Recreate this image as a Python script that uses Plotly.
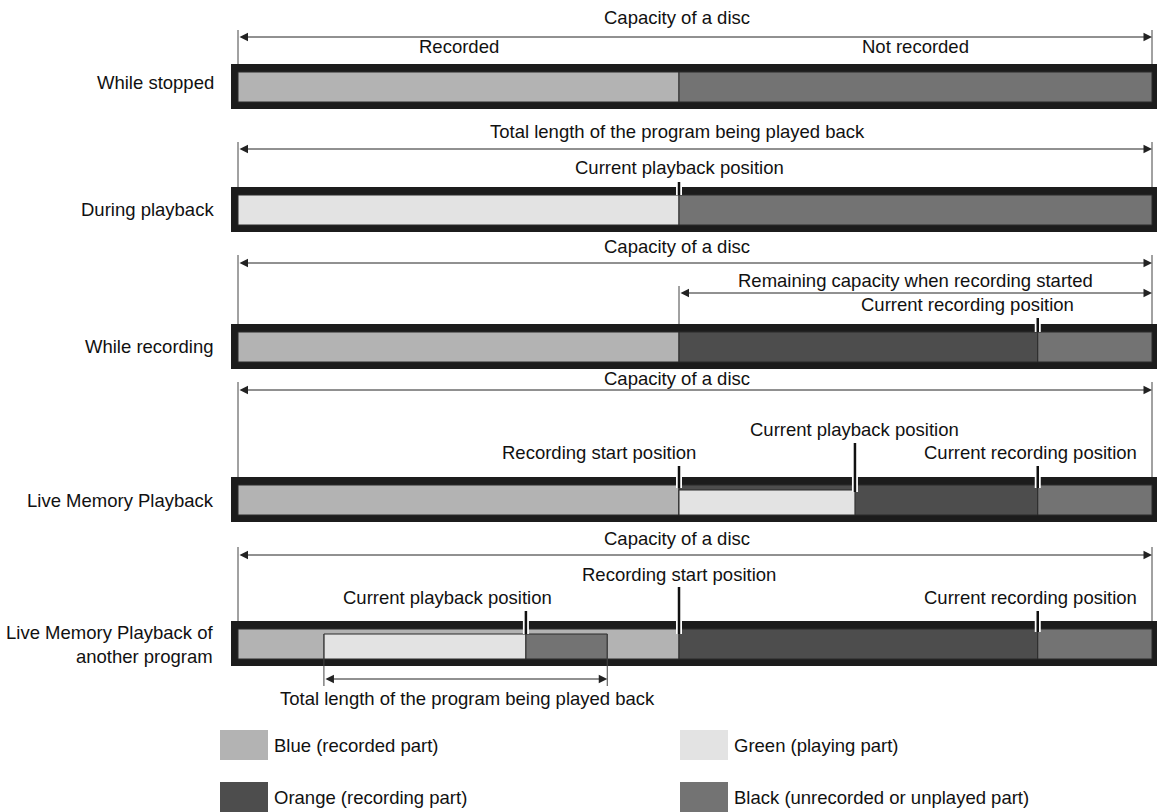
import plotly.graph_objects as go

# ---------------- data (percent of the full bar) ----------------
row_labels = ["While stopped", "During playback", "While recording",
              "Live Memory Playback", "Live Memory Playback of<br>another program"]

recorded_pct = 48.25          # recorded part / recording start
playback_pos_pct = 48.25      # current playback position (during playback)
recording_pos_pct = 87.5      # current recording position
live_playback_pos_pct = 67.5  # live memory playback position
other_start_pct = 9.4         # other program start
other_end_pct = 40.4          # other program end
other_playback_pos_pct = 31.5 # playback position inside other program

color_names = ["blue", "green", "orange", "black"]
color_values = ["#b3b3b3", "#e3e3e3", "#4d4d4d", "#737373"]
legend_labels = ["Blue (recorded part)", "Green (playing part)",
                 "Orange (recording part)", "Black (unrecorded or unplayed part)"]

row_segments = [
    [(0, recorded_pct, "blue"), (recorded_pct, 100, "black")],
    [(0, playback_pos_pct, "green"), (playback_pos_pct, 100, "black")],
    [(0, recorded_pct, "blue"), (recorded_pct, recording_pos_pct, "orange"),
     (recording_pos_pct, 100, "black")],
    [(0, recorded_pct, "blue"), (recorded_pct, recording_pos_pct, "orange"),
     (recording_pos_pct, 100, "black")],
    [(0, recorded_pct, "blue"), (recorded_pct, recording_pos_pct, "orange"),
     (recording_pos_pct, 100, "black")],
]
# ---------------------------------------------------------------

COL = dict(zip(color_names, color_values))
W, H = 1159, 812
BAR_L, BAR_R = 238, 1152
PPU = (BAR_R - BAR_L) / 100.0          # pixels per percent


def dx(px):
    return px / PPU


X_RANGE = [-BAR_L / PPU, (W - BAR_L) / PPU]
FONT = "Liberation Sans, Arial, sans-serif"
FS = 18.5
TXT = "#111111"

ROW_TOP = [64, 187, 324, 477, 621]
OUT_H, IN_OFF, IN_H = 45, 8, 30

shapes = []
annotations = []


def rect(x0, x1, y0, y1, fill, line=None, lw=0, xref="x"):
    shapes.append(dict(type="rect", xref=xref, yref="y", x0=x0, x1=x1, y0=y0, y1=y1,
                       fillcolor=fill, line=dict(color=line or fill, width=lw),
                       layer="above"))


def vline(x, y0, y1, color="#444444", w=1):
    shapes.append(dict(type="line", xref="x", yref="y", x0=x, x1=x, y0=y0, y1=y1,
                       line=dict(color=color, width=w), layer="above"))


def text(s, x, y, xref="x", anchor="center"):
    annotations.append(dict(text=s, x=x, y=y, xref=xref, yref="y", showarrow=False,
                            xanchor=anchor, yanchor="middle",
                            font=dict(family=FONT, size=FS, color=TXT)))


def darrow(x0, x1, y):
    annotations.append(dict(text="", x=x1, y=y, ax=x0, ay=y, xref="x", yref="y",
                            axref="x", ayref="y", showarrow=True,
                            arrowside="end+start", arrowhead=2, startarrowhead=2,
                            arrowsize=1.7, startarrowsize=1.7, arrowwidth=1,
                            arrowcolor="#222222", standoff=0, startstandoff=0))


def marker(x, y0, y1):
    rect(x - dx(3), x + dx(3), y0, y1, "white")
    vline(x, y0, y1, "#111111", 2.5)


# bars
for r, segs in enumerate(row_segments):
    top = ROW_TOP[r]
    rect(-dx(7), 100 + dx(5), top, top + OUT_H, "#1c1c1c")
    it, ib = top + IN_OFF, top + IN_OFF + IN_H
    for s0, s1, c in segs:
        rect(s0, s1, it, ib, COL[c], "#2a2a2a", 1)

# live memory playback: green part over orange
it3 = ROW_TOP[3] + IN_OFF
rect(recorded_pct, live_playback_pos_pct, it3 + 5, it3 + IN_H, COL["green"], "#2a2a2a", 1)

# other program inside recorded part
it4 = ROW_TOP[4] + IN_OFF
rect(other_start_pct, other_playback_pos_pct, it4 + 5, it4 + IN_H, COL["green"], "#2a2a2a", 1)
rect(other_playback_pos_pct, other_end_pct, it4 + 5, it4 + IN_H, COL["black"], "#2a2a2a", 1)

# row 1
vline(0, 30, ROW_TOP[0]); vline(100, 30, ROW_TOP[0])
darrow(0, 100, 37)
text("Capacity of a disc", 48.25 - dx(2), 17)
text("Recorded", recorded_pct / 2, 46)
text("Not recorded", (recorded_pct + 100) / 2, 46)

# row 2
vline(0, 142, ROW_TOP[1]); vline(100, 142, ROW_TOP[1])
darrow(0, 100, 149)
text("Total length of the program being played back", 48.25 - dx(2), 131)
text("Current playback position", playback_pos_pct, 167)
marker(playback_pos_pct, 182, ROW_TOP[1] + IN_OFF)

# row 3
vline(0, 255, ROW_TOP[2]); vline(100, 255, ROW_TOP[2])
darrow(0, 100, 263)
text("Capacity of a disc", 48.25 - dx(2), 246)
vline(recorded_pct, 286, ROW_TOP[2])
darrow(recorded_pct, 100, 293)
text("Remaining capacity when recording started", (recorded_pct + 100) / 2, 280)
text("Current recording position", recording_pos_pct - dx(70), 304)
marker(recording_pos_pct, 318, ROW_TOP[2] + IN_OFF)

# row 4
vline(0, 382, ROW_TOP[3]); vline(100, 382, ROW_TOP[3])
darrow(0, 100, 390)
text("Capacity of a disc", 48.25 - dx(2), 378)
text("Current playback position", live_playback_pos_pct, 429)
text("Recording start position", recorded_pct - dx(80), 452)
text("Current recording position", recording_pos_pct - dx(7), 452)
marker(recorded_pct, 466, ROW_TOP[3] + IN_OFF + 3)
marker(live_playback_pos_pct, 443, ROW_TOP[3] + IN_OFF + 7)
marker(recording_pos_pct, 466, ROW_TOP[3] + IN_OFF + 3)

# row 5
vline(0, 547, ROW_TOP[4]); vline(100, 547, ROW_TOP[4])
darrow(0, 100, 555)
text("Capacity of a disc", 48.25 - dx(2), 538)
text("Recording start position", recorded_pct, 574)
text("Current playback position", other_playback_pos_pct - dx(78), 597)
text("Current recording position", recording_pos_pct - dx(7), 597)
marker(recorded_pct, 587, it4 + 5)
marker(other_playback_pos_pct, 611, it4 + 5)
marker(recording_pos_pct, 611, it4 + 3)
vline(other_start_pct, it4 + 5, 686); vline(other_end_pct, it4 + 5, 686)
darrow(other_start_pct, other_end_pct, 679)
text("Total length of the program being played back",
     (other_start_pct + other_end_pct) / 2 + dx(2), 698)

# row labels
label_y = [82, 209, 346, 500, 644]
for lab, y in zip(row_labels, label_y):
    annotations.append(dict(text=lab, x=216 / W, y=y, xref="paper", yref="y",
                            showarrow=False, xanchor="right", yanchor="middle", align="right",
                            font=dict(family=FONT, size=FS, color=TXT)))

# legend
leg_pos = [(220, 745), (680, 745), (220, 797), (680, 797)]
for (lx, ly), c, lab in zip(leg_pos, color_values, legend_labels):
    shapes.append(dict(type="rect", xref="paper", yref="y", x0=lx / W, x1=(lx + 48) / W,
                       y0=ly - 15, y1=ly + 15, fillcolor=c, line=dict(width=0), layer="above"))
    annotations.append(dict(text=lab, x=(lx + 52) / W, y=ly, xref="paper", yref="y",
                            showarrow=False, xanchor="left", yanchor="middle",
                            font=dict(family=FONT, size=FS, color=TXT)))

fig = go.Figure()
fig.add_trace(go.Scatter(x=[None], y=[None], showlegend=False, hoverinfo="skip"))
fig.update_layout(
    width=W, height=H, margin=dict(l=0, r=0, t=0, b=0),
    paper_bgcolor="white", plot_bgcolor="white", showlegend=False,
    xaxis=dict(range=X_RANGE, visible=False, fixedrange=True),
    yaxis=dict(range=[H, 0], visible=False, fixedrange=True),
    shapes=shapes, annotations=annotations,
)
fig.write_html("out.html", config={"displayModeBar": False},
               post_script="document.body.style.margin='0';document.body.style.overflow='hidden';")
